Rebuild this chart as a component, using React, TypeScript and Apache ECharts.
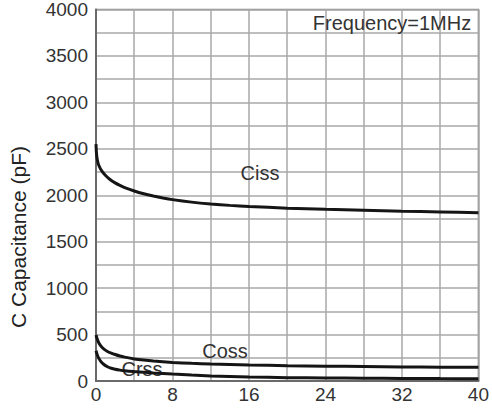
import React, { useEffect, useRef } from "react";
import * as echarts from "echarts";

const cissX = [0, 0.05, 0.15, 0.3, 0.6, 1, 1.5, 2, 2.5, 3, 4, 5, 6, 7, 8, 10, 12, 14, 16, 20, 24, 28, 32, 36, 40];
const cissY = [2550, 2450, 2375, 2320, 2262, 2212, 2167, 2133, 2106, 2083, 2046, 2016, 1992, 1971, 1953, 1926, 1906, 1891, 1879, 1861, 1848, 1838, 1828, 1820, 1812];

const cossX = [0, 0.1, 0.25, 0.5, 0.8, 1.2, 1.6, 2, 2.5, 3, 4, 5, 6, 8, 10, 12, 16, 20, 24, 28, 32, 36, 40];
const cossY = [495, 460, 420, 378, 345, 318, 300, 285, 269, 257, 238, 225, 215, 200, 190, 183, 172, 165, 160, 156, 152, 149, 147];

const crssX = [0, 0.1, 0.25, 0.5, 0.8, 1.2, 1.6, 2, 2.5, 3, 4, 5, 6, 8, 10, 12, 16, 20, 24, 28, 32, 36, 40];
const crssY = [326, 292, 252, 212, 180, 153, 137, 126, 117, 110, 101, 94, 87, 75, 64, 55, 43, 36, 33, 30, 28, 26, 25];

const xLabelStep = 8;
const yLabelStep = 500;

const FONT = "Liberation Sans, Arial, sans-serif";

function pairs(xs: number[], ys: number[]) {
  return xs.map((x, i) => [x, ys[i]]);
}

export default function App() {
  const ref = useRef<HTMLDivElement>(null);
  useEffect(() => {
    document.body.style.margin = "0";
    const chart = echarts.init(ref.current!, null, { renderer: "svg" });
    const lineStyle = { color: "#151515", width: 3 };
    const mk = (name: string, xs: number[], ys: number[]) => ({
      type: "line",
      name,
      data: pairs(xs, ys),
      smooth: 0.2,
      showSymbol: false,
      symbol: "none",
      lineStyle,
      z: 5,
    });
    const label = (text: string, x: number, y: number) => ({
      type: "text",
      x,
      y,
      z: 1,
      style: { text, fontSize: 20, fontFamily: FONT, fill: "#333", align: "center", verticalAlign: "middle" },
    });
    chart.setOption({
      animation: false,
      grid: {
        left: 96,
        right: 11,
        top: 9.5,
        bottom: 29,
        show: true,
        borderColor: "#8a8a8a",
        borderWidth: 1.5,
        backgroundColor: "#fff",
      },
      xAxis: {
        type: "value",
        min: 0,
        max: 40,
        interval: 4,
        axisLine: { show: true, lineStyle: { color: "#6a6a6a", width: 2 } },
        axisTick: { show: false },
        splitLine: { show: true, lineStyle: { color: "#a8a8a8", width: 1.5 } },
        axisLabel: {
          color: "#333",
          fontSize: 19,
          fontFamily: FONT,
          margin: 4,
          formatter: (v: number) => (v % xLabelStep === 0 ? String(v) : ""),
        },
      },
      yAxis: {
        type: "value",
        min: 0,
        max: 4000,
        interval: 250,
        axisLine: { show: true, lineStyle: { color: "#6a6a6a", width: 2 } },
        axisTick: { show: false },
        splitLine: { show: true, lineStyle: { color: "#a8a8a8", width: 1.5 } },
        axisLabel: {
          color: "#333",
          fontSize: 19,
          fontFamily: FONT,
          margin: 8,
          formatter: (v: number) => (v % yLabelStep === 0 ? String(v) : ""),
        },
      },
      graphic: [
        {
          type: "text",
          x: 18,
          y: 237,
          rotation: Math.PI / 2,
          style: {
            text: "C Capacitance (pF)",
            fontSize: 21,
            fontFamily: FONT,
            fill: "#222",
            align: "center",
            verticalAlign: "middle",
          },
        },
        label("Frequency=1MHz", 392, 23),
        label("Ciss", 260, 173),
        label("Coss", 225, 351),
        label("Crss", 142, 369),
      ],
      series: [mk("Ciss", cissX, cissY), mk("Coss", cossX, cossY), mk("Crss", crssX, crssY)],
    });
    return () => chart.dispose();
  }, []);
  return <div ref={ref} style={{ width: 492, height: 410 }} />;
}
